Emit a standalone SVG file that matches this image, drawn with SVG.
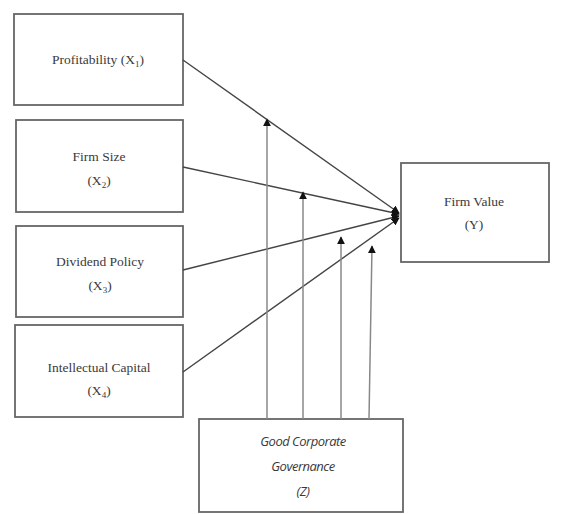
<svg xmlns="http://www.w3.org/2000/svg" width="561" height="514" viewBox="0 0 561 514">
<style>
.box{fill:#fff;stroke:#666;stroke-width:1.8}
.t{font-family:"Liberation Serif","Times New Roman",serif;font-size:13.5px;fill:#3a3a3a;text-anchor:middle}
.ti{font-family:"Open Sans","Liberation Sans",sans-serif;font-style:italic;font-size:13px;fill:#3a3a3a;text-anchor:middle;letter-spacing:-0.5px}
.c{stroke:#444;stroke-width:1.4;fill:none}
.v{stroke:#888;stroke-width:1.5;fill:none}
</style>
<defs>
<marker id="ah" viewBox="0 0 10 10" refX="9" refY="5" markerWidth="8" markerHeight="8" markerUnits="userSpaceOnUse" orient="auto">
<path d="M0,0 L10,5 L0,10 z" fill="#111"/>
</marker>
</defs>
<rect width="561" height="514" fill="#fff"/>
<g id="x1"><rect class="box" x="14" y="14" width="169" height="91"/><text class="t" x="98" y="64">Profitability (X<tspan font-size="9" dy="3">1</tspan><tspan dy="-3">)</tspan></text></g>
<g id="x2"><rect class="box" x="16" y="120" width="167" height="92"/><text class="t" x="99" y="161">Firm Size</text><text class="t" x="99" y="185">(X<tspan font-size="9" dy="3">2</tspan><tspan dy="-3">)</tspan></text></g>
<g id="x3"><rect class="box" x="16" y="226" width="167" height="91"/><text class="t" x="100" y="266">Dividend Policy</text><text class="t" x="100" y="290">(X<tspan font-size="9" dy="3">3</tspan><tspan dy="-3">)</tspan></text></g>
<g id="x4"><rect class="box" x="15" y="325" width="168" height="92"/><text class="t" x="99" y="372">Intellectual Capital</text><text class="t" x="99" y="395">(X<tspan font-size="9" dy="3">4</tspan><tspan dy="-3">)</tspan></text></g>
<g id="y"><rect class="box" x="401" y="163" width="148" height="99"/><text class="t" x="474" y="206">Firm Value</text><text class="t" x="474" y="229">(Y)</text></g>
<g id="z"><rect class="box" x="199" y="419" width="204" height="93"/><text class="ti" x="303" y="446">Good Corporate</text><text class="ti" x="303" y="471">Governance</text><text class="ti" x="303" y="496">(Z)</text></g>
<g id="connectors">
<line class="c" x1="183" y1="60" x2="399" y2="213" marker-end="url(#ah)"/>
<line class="c" x1="183" y1="167" x2="399" y2="214" marker-end="url(#ah)"/>
<line class="c" x1="183" y1="270" x2="399" y2="216" marker-end="url(#ah)"/>
<line class="c" x1="183" y1="372" x2="399" y2="218" marker-end="url(#ah)"/>
<line class="v" x1="267" y1="419" x2="267" y2="119" marker-end="url(#ah)"/>
<line class="v" x1="303" y1="419" x2="303" y2="192" marker-end="url(#ah)"/>
<line class="v" x1="341" y1="419" x2="341" y2="237" marker-end="url(#ah)"/>
<line class="v" x1="369" y1="419" x2="372" y2="246" marker-end="url(#ah)"/>
</g>
</svg>
